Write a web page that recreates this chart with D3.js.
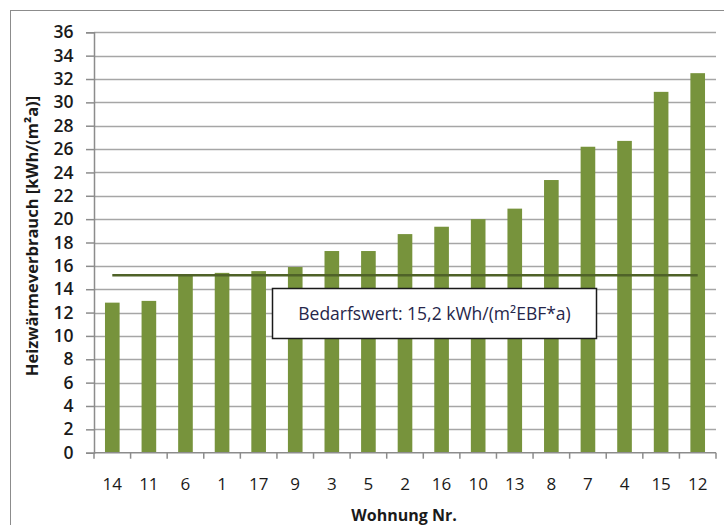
<!DOCTYPE html>
<html><head><meta charset="utf-8">
<script src="https://cdn.jsdelivr.net/npm/d3@7"></script>
<style>html,body{margin:0;padding:0;background:#fff;}svg{display:block;}</style>
</head><body>
<script>
const categories = ["14","11","6","1","17","9","3","5","2","16","10","13","8","7","4","15","12"];
const values = [12.85,13.0,15.2,15.4,15.55,15.9,17.27,17.27,18.72,19.35,20.0,20.9,23.35,26.2,26.7,30.9,32.5];
const yTicks = [0,2,4,6,8,10,12,14,16,18,20,22,24,26,28,30,32,34,36];
const referenceValue = 15.2;
const annotationText = "Bedarfswert: 15,2 kWh/(m²EBF*a)";
const yTitle = "Heizwärmeverbrauch [kWh/(m²a)]";
const xTitle = "Wohnung Nr.";

const W = 724, H = 525;
const m = {left: 94, right: 8, top: 32.3, bottom: 72.3};
const svg = d3.select("body").append("svg").attr("width", W).attr("height", H);
const font = "'Open Sans', sans-serif";

// outer frame
svg.append("rect").attr("x", 10.5).attr("y", 10.5).attr("width", W + 10).attr("height", H + 10)
  .attr("fill", "none").attr("stroke", "#8c8c8c").attr("stroke-width", 1);

const x = d3.scaleBand().domain(categories).range([m.left, W - m.right]).paddingInner(0.6).paddingOuter(0.3);
const y = d3.scaleLinear().domain([0, 36]).range([H - m.bottom, m.top]);

// gridlines
svg.append("g").selectAll("line").data(yTicks.filter(d => d > 0)).join("line")
  .attr("x1", m.left).attr("x2", W - m.right)
  .attr("y1", d => Math.round(y(d)) + 0.5).attr("y2", d => Math.round(y(d)) + 0.5)
  .attr("stroke", "#a6a6a6").attr("stroke-width", 1.5);

// bars
svg.append("g").selectAll("rect").data(values).join("rect")
  .attr("x", (d, i) => x(categories[i]))
  .attr("y", d => y(d))
  .attr("width", x.bandwidth())
  .attr("height", d => y(0) - y(d))
  .attr("fill", "#77933c");

// y axis
const yAxis = svg.append("g").attr("transform", `translate(${m.left},0)`)
  .call(d3.axisLeft(y).tickValues(yTicks).tickSize(8).tickPadding(12));
yAxis.select(".domain").attr("stroke", "#8c8c8c").attr("stroke-width", 1.5);
yAxis.selectAll(".tick line").attr("stroke", "#8c8c8c").attr("stroke-width", 1.5);
yAxis.selectAll(".tick text").attr("font-family", font).attr("font-size", "17.5px")
  .attr("fill", "#1a1a1a").attr("font-weight", 600).attr("dx", "-0.5px");

// x axis
const step = x.step();
const xAxisG = svg.append("g").attr("transform", `translate(0,${y(0)})`);
xAxisG.append("line").attr("x1", m.left).attr("x2", W - m.right)
  .attr("stroke", "#8c8c8c").attr("stroke-width", 1.5);
const bounds = d3.range(categories.length + 1).map(i => m.left + i * step);
xAxisG.selectAll("line.tk").data(bounds).join("line").attr("class", "tk")
  .attr("x1", d => d).attr("x2", d => d).attr("y1", 0).attr("y2", 6)
  .attr("stroke", "#8c8c8c").attr("stroke-width", 1.5);
xAxisG.selectAll("text").data(categories).join("text")
  .attr("x", d => x(d) + x.bandwidth() / 2).attr("y", 37)
  .attr("text-anchor", "middle").attr("font-family", font).attr("font-size", "17px")
  .attr("fill", "#1a1a1a").text(d => d);

// reference line
svg.append("line")
  .attr("x1", x(categories[0]) + x.bandwidth() / 2)
  .attr("x2", x(categories[categories.length - 1]) + x.bandwidth() / 2)
  .attr("y1", y(referenceValue)).attr("y2", y(referenceValue))
  .attr("stroke", "#4f6228").attr("stroke-width", 2.5);

// annotation box
const bx = 272.5, by = 288.5, bw = 324, bh = 50;
svg.append("rect").attr("x", bx).attr("y", by).attr("width", bw).attr("height", bh)
  .attr("fill", "#fff").attr("stroke", "#1a1a1a").attr("stroke-width", 1.5);
svg.append("text").attr("x", bx + bw / 2).attr("y", by + bh / 2 + 6)
  .attr("text-anchor", "middle").attr("font-family", font).attr("font-size", "17.5px")
  .attr("fill", "#26264a").text(annotationText);

// axis titles
svg.append("text").attr("transform", `translate(38,${236}) rotate(-90)`)
  .attr("text-anchor", "middle").attr("font-family", font).attr("font-size", "16.5px")
  .attr("font-weight", 700).attr("fill", "#1a1a1a").text(yTitle);
svg.append("text").attr("x", 404).attr("y", 521)
  .attr("text-anchor", "middle").attr("font-family", font).attr("font-size", "16px")
  .attr("font-weight", 700).attr("fill", "#1a1a1a").text(xTitle);
</script>
</body></html>
